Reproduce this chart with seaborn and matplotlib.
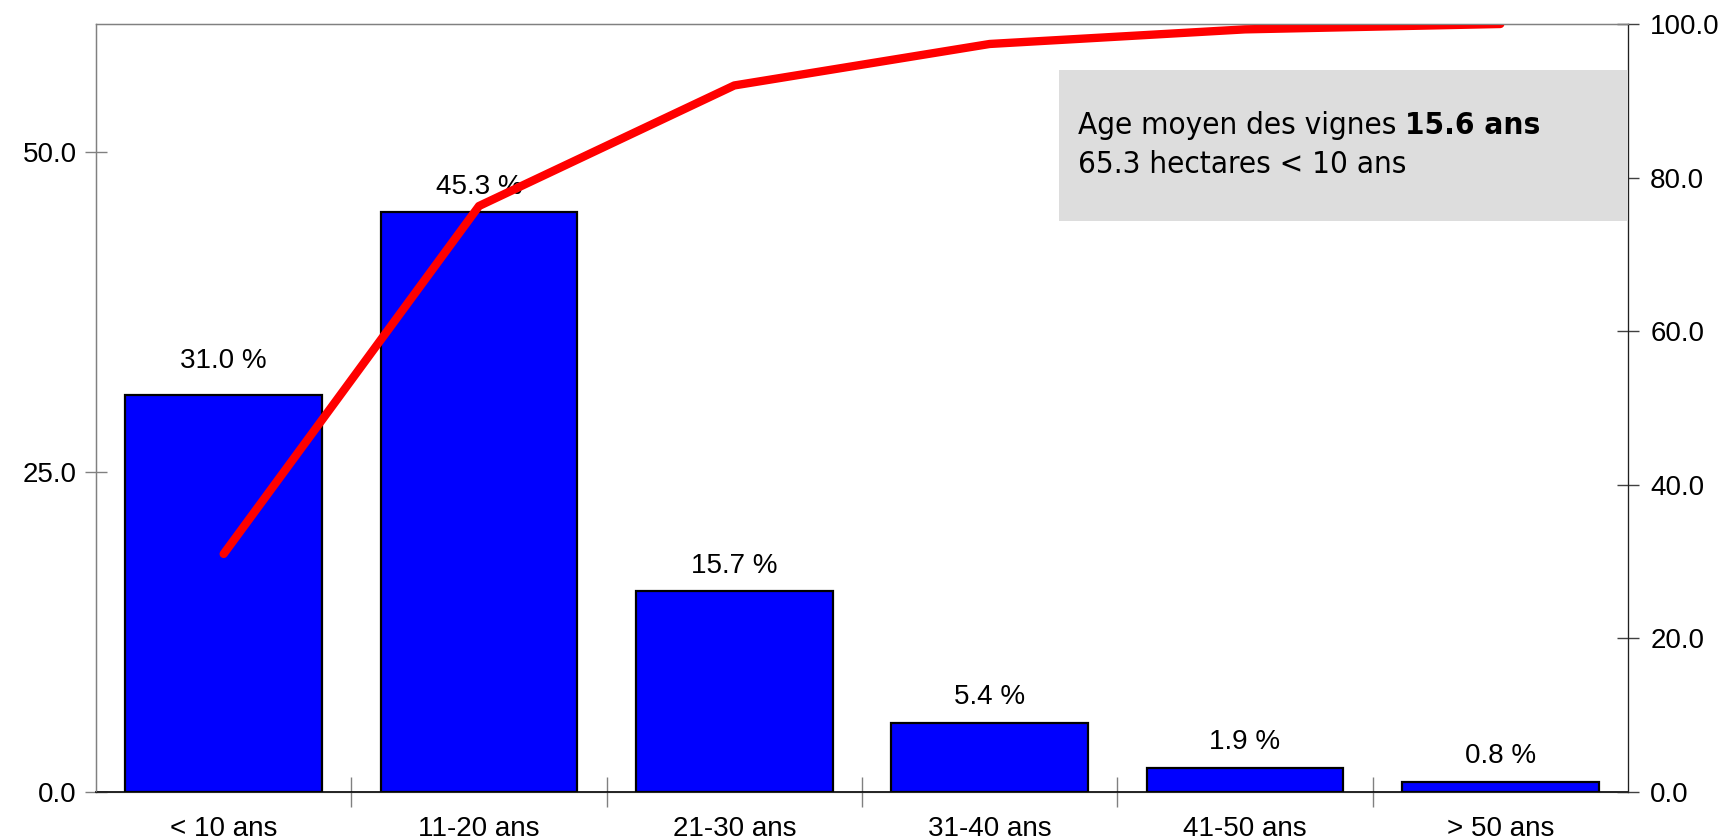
import numpy as np
import pandas as pd
import seaborn as sns
import matplotlib.pyplot as plt
from matplotlib.ticker import FixedLocator

# data
classes = ['< 10 ans', '11-20 ans', '21-30 ans', '31-40 ans', '41-50 ans', '> 50 ans']
pct = [31.0, 45.3, 15.7, 5.4, 1.9, 0.8]
cumul = [31.0, 76.3, 92.0, 97.4, 99.3, 100.0]
left_ticks = [0, 25, 50]
right_ticks = [0, 20, 40, 60, 80, 100]

df = pd.DataFrame({'Classe': classes, 'Pct': pct, 'Cumul': cumul})

sns.set_style('white')
plt.rcParams['font.family'] = ['Liberation Sans', 'DejaVu Sans']
plt.rcParams['text.color'] = 'black'
plt.rcParams['xtick.color'] = 'black'
plt.rcParams['ytick.color'] = 'black'

fig = plt.figure(figsize=(17.28, 8.4), dpi=100)
ax = fig.add_axes([96 / 1728, 48 / 840, 1532 / 1728, 768 / 840])

sns.barplot(data=df, x='Classe', y='Pct', color='#0000FF', saturation=1,
            width=0.77, edgecolor='black', linewidth=1.6, ax=ax)

# labels above bars
for i, v in enumerate(df['Pct']):
    off = 15 if i == 0 else 9
    ax.annotate(f'{v:.1f} %', (i, v), xytext=(0, off), textcoords='offset points',
                ha='center', va='bottom', fontsize=20)

ax.set_xlim(-0.5, 5.5)
ax.set_ylim(0, 60)
ax.set_xlabel('')
ax.set_ylabel('')
ax.set_yticks(left_ticks)
ax.set_yticklabels([f'{t:.1f}' for t in left_ticks], fontsize=20)
ax.set_xticks(range(len(classes)))
ax.set_xticklabels(classes, fontsize=20)
ax.tick_params(axis='x', which='major', length=0, pad=17)
ax.xaxis.set_minor_locator(FixedLocator(np.arange(0.5, 5.5, 1)))
ax.tick_params(axis='x', which='minor', direction='inout', length=22,
               color='#808080', width=1, bottom=True)
ax.tick_params(axis='y', direction='inout', length=16, color='#808080', width=1,
               left=True, pad=6)

for s in ['left', 'top', 'right']:
    ax.spines[s].set_color('#808080')
    ax.spines[s].set_linewidth(1)
ax.spines['bottom'].set_color('black')
ax.spines['bottom'].set_linewidth(1.2)

ax2 = ax.twinx()
sns.lineplot(data=df, x='Classe', y='Cumul', color='#FF0000', linewidth=6,
             sort=False, ax=ax2)
ax2.set_ylim(0, 100)
ax2.set_xlim(-0.5, 5.5)
ax2.set_ylabel('')
ax2.set_yticks(right_ticks)
ax2.set_yticklabels([f'{t:.1f}' for t in right_ticks], fontsize=20)
ax2.tick_params(axis='y', direction='inout', length=16, color='#404040', width=1,
                right=True, pad=8)
ax2.spines['right'].set_color('#202020')
ax2.spines['top'].set_color('#808080')
ax2.spines['left'].set_color('#808080')

# grey info box
box = plt.Rectangle((963 / 1532, (792 - 221) / 768), 569 / 1532, 151 / 768,
                    transform=ax.transAxes, facecolor='#DDDDDD', edgecolor='none',
                    zorder=3, clip_on=False)
ax2.add_patch(box)
tx = (1078 - 96) / 1532
box_font = dict(fontsize=22.5, family='DejaVu Sans', fontstretch='condensed',
                va='center', zorder=4, transform=ax.transAxes)
t1 = ax2.text(tx, (792 - 126) / 768, 'Age moyen des vignes ', **box_font)
fig.canvas.draw()
bb = t1.get_window_extent()
x_end = ax.transAxes.inverted().transform((bb.x1, bb.y0))[0]
ax2.text(x_end, (792 - 126) / 768, '15.6 ans', fontweight='bold', **box_font)
ax2.text(tx, (792 - 165) / 768, '65.3 hectares < 10 ans', **box_font)

fig.savefig('out.png', dpi=100)
